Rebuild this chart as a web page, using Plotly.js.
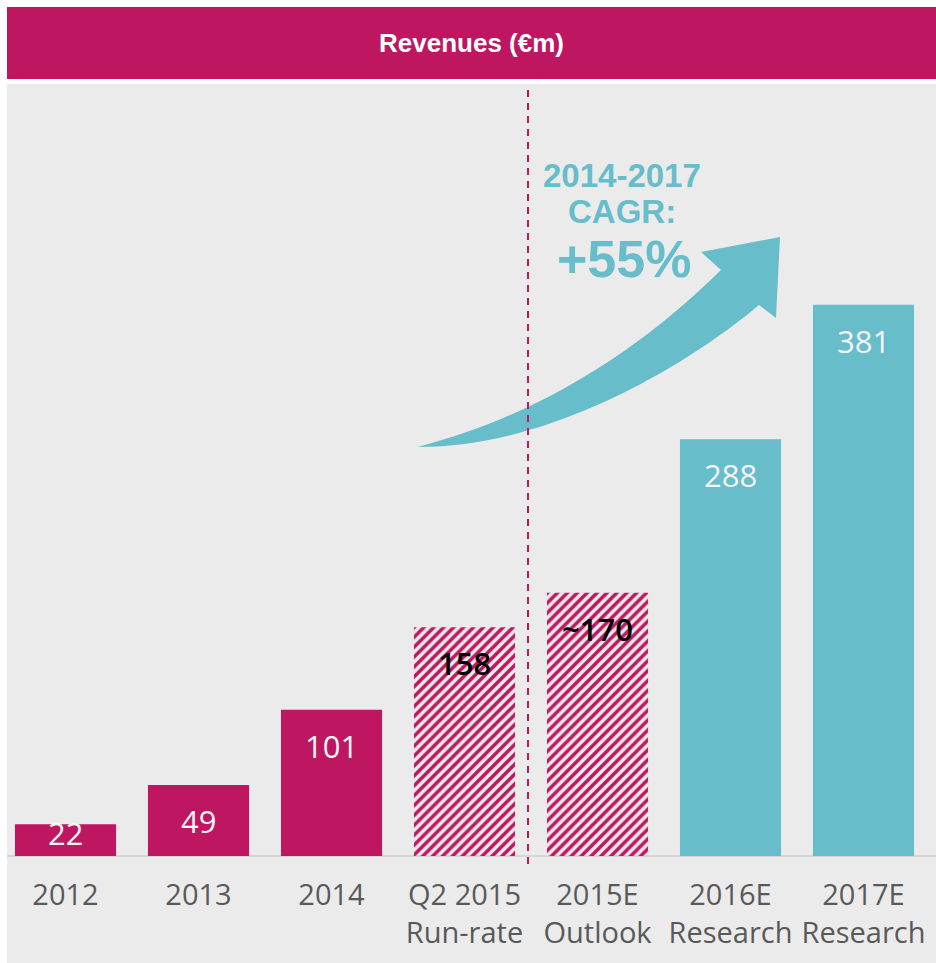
<!DOCTYPE html>
<html>
<head>
<meta charset="utf-8">
<script src="https://cdn.plot.ly/plotly-3.0.1.min.js"></script>
<style>html,body{margin:0;padding:0;background:#fff;}#chart{width:936px;height:963px;}</style>
</head>
<body>
<div id="chart"></div>
<script>
// ---- data ----
const categories = ["2012", "2013", "2014", "Q2 2015<br>Run-rate", "2015E<br>Outlook", "2016E<br>Research", "2017E<br>Research"];
const revenues = [22, 49, 101, 158, 182, 288, 381];          // bar heights as drawn
const valueLabels = ["22", "49", "101", "158", "~170", "288", "381"];
const barKinds = ["actual", "actual", "actual", "estimate", "estimate", "research", "research"];
const cagrLines = ["2014-2017", "CAGR:", "+55%"];
const chartTitle = "Revenues (€m)";

// ---- styling ----
const MAGENTA = "#be1660", TEAL = "#67bdca", PANEL = "#ebebeb";
const W = 936, H = 963, ML = 7, MT = 84, MB = 107;
const PW = W - ML, PH = H - MT - MB;
const pxPerUnit = 1.447;
const yTop = PH / pxPerUnit;
const px2x = p => (p - ML) / PW;
const px2y = p => (H - MB - p) / PH;

const colors = barKinds.map(k => k === "research" ? TEAL : MAGENTA);
const shapesPat = barKinds.map(k => k === "estimate" ? "/" : "");

const trace = {
  type: "bar",
  x: categories,
  y: revenues,
  width: 0.76,
  marker: {
    color: colors,
    line: {width: 0},
    pattern: {shape: shapesPat, fillmode: "replace", bgcolor: "#ffffff", fgcolor: MAGENTA, size: 7, solidity: 0.5}
  },
  hoverinfo: "skip",
  showlegend: false
};

const annotations = [];
revenues.forEach((v, i) => {
  const est = barKinds[i] === "estimate";
  annotations.push({
    x: i, y: Math.max(v - 36 / pxPerUnit, 23 / pxPerUnit), xref: "x", yref: "y",
    text: valueLabels[i], showarrow: false, yanchor: "middle", xanchor: "center",
    font: {family: "Open Sans", size: 31, weight: est ? 600 : 400, color: est ? "#000000" : "#f4f4f4"}
  });
});
function paperText(txt, x, y, size) {
  return {x: px2x(x), y: px2y(y), xref: "paper", yref: "paper", xanchor: "center", yanchor: "middle",
    text: "<b>" + txt + "</b>", showarrow: false, font: {family: "Liberation Sans", size: size, color: TEAL}};
}
const titleAnn = paperText(chartTitle, 471, 43, 26);
titleAnn.font.color = "#ffffff";
annotations.push(titleAnn);
annotations.push(paperText(cagrLines[0], 622, 175, 33));
annotations.push(paperText(cagrLines[1], 622, 211, 33));
annotations.push(paperText(cagrLines[2], 624, 259, 52));

// decorative arrow path (pixel points converted to paper coords)
const P = (x, y) => px2x(x).toFixed(5) + "," + px2y(y).toFixed(5);
const arrowPath = "M" + P(418, 447) +
  " C" + P(540, 415) + " " + P(640, 350) + " " + P(721, 270) +
  " L" + P(701, 252) + " L" + P(780, 237) + " L" + P(776, 318) + " L" + P(759, 305) +
  " C" + P(700, 355) + " " + P(560, 447) + " " + P(418, 447) + " Z";

const shapes = [
  {type: "rect", xref: "paper", yref: "paper", x0: 0, x1: 1, y0: px2y(H), y1: px2y(84), fillcolor: PANEL, line: {width: 0}, layer: "below"},
  {type: "rect", xref: "paper", yref: "paper", x0: 0, x1: 1, y0: px2y(79), y1: px2y(7), fillcolor: MAGENTA, line: {width: 0}, layer: "below"},
  {type: "line", xref: "paper", yref: "paper", x0: 0, x1: 1, y0: 0, y1: 0, line: {color: "#d6d6d6", width: 2}, layer: "below"},
  {type: "path", xref: "paper", yref: "paper", path: arrowPath, fillcolor: TEAL, line: {width: 0}, layer: "below"},
  {type: "line", xref: "paper", yref: "paper", x0: px2x(528), x1: px2x(528), y0: px2y(90), y1: px2y(864), line: {color: MAGENTA, width: 2, dash: "7px,6px"}}
];

const layout = {
  width: W, height: H,
  margin: {l: ML, r: 0, t: MT, b: MB, pad: 0},
  paper_bgcolor: "#ffffff",
  plot_bgcolor: "rgba(0,0,0,0)",
  xaxis: {
    type: "category", range: [-0.4398, 6.545], showgrid: false, zeroline: false, showline: false, ticks: "",
    ticklabelstandoff: 19,
    tickfont: {family: "Open Sans", size: 29, color: "#595959"}, fixedrange: true
  },
  yaxis: {range: [0, yTop], visible: false, showgrid: false, zeroline: false, fixedrange: true},
  shapes: shapes,
  annotations: annotations,
  showlegend: false
};

Plotly.newPlot("chart", [trace], layout, {displayModeBar: false, staticPlot: true});
</script>
</body>
</html>
